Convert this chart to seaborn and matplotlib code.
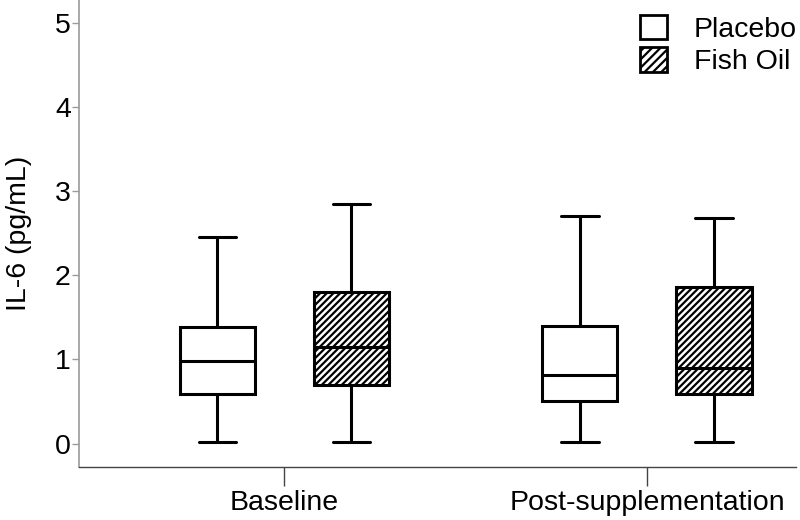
import pandas as pd
import numpy as np
import matplotlib
matplotlib.use("Agg")
import matplotlib.pyplot as plt
from matplotlib.patches import Patch
import seaborn as sns

sns.set_style("ticks")
plt.rcParams['font.family'] = ['Liberation Sans', 'DejaVu Sans']
plt.rcParams['hatch.linewidth'] = 1.6
plt.rcParams['text.color'] = 'black'
plt.rcParams['axes.labelcolor'] = 'black'

# Five-number summaries: min, Q1, median, Q3, max
timepoints = ["Baseline", "Post-supplementation"]
groups = ["Placebo", "Fish Oil"]
baseline_placebo = [0.02, 0.59, 0.985, 1.38, 2.45]
baseline_fishoil = [0.02, 0.70, 1.15, 1.80, 2.85]
post_placebo = [0.02, 0.505, 0.815, 1.40, 2.70]
post_fishoil = [0.02, 0.59, 0.90, 1.86, 2.68]

summaries = {
    ("Baseline", "Placebo"): baseline_placebo,
    ("Baseline", "Fish Oil"): baseline_fishoil,
    ("Post-supplementation", "Placebo"): post_placebo,
    ("Post-supplementation", "Fish Oil"): post_fishoil,
}
rows = []
for (tp, grp), vals in summaries.items():
    for v in vals:
        rows.append({"Time": tp, "Group": grp, "IL6": v})
df = pd.DataFrame(rows)

fig = plt.figure(figsize=(8, 5.2), dpi=100)
ax = fig.add_axes([0.099, 0.101, 0.896, 0.899])

sns.boxplot(data=df, x="Time", y="IL6", hue="Group", order=timepoints, hue_order=groups,
            palette={"Placebo": "white", "Fish Oil": "black"}, linecolor="black",
            linewidth=2.2, whis=(0, 100), width=0.74, gap=0.44, legend=False, ax=ax)

# fish oil boxes: white fill with dense diagonal hatching
for p in ax.patches:
    fc = p.get_facecolor()
    if fc[0] < 0.5:
        p.set_facecolor("white")
        p.set_edgecolor("black")
        p.set_hatch("/////")

ax.set_ylim(-0.283, 5.27)
ax.set_xlim(-0.566, 1.411)
ax.set_yticks([0, 1, 2, 3, 4, 5])
ax.set_xlabel("")
ax.set_ylabel("IL-6 (pg/mL)", fontsize=20.5)
ax.yaxis.set_label_coords(-0.066, 0.5)

sns.despine(ax=ax)
ax.spines['left'].set_color('#9a9a9a')
ax.spines['left'].set_linewidth(1.2)
ax.spines['bottom'].set_color('#444444')
ax.spines['bottom'].set_linewidth(1.0)
ax.tick_params(axis='y', labelsize=20.5, length=5, width=1, color='#9a9a9a', labelcolor='black', pad=1)
ax.tick_params(axis='x', labelsize=20.5, length=13.5, width=1, color='#444444', labelcolor='black', pad=3)

handles = [Patch(facecolor="white", edgecolor="black", linewidth=2, label="Placebo"),
           Patch(facecolor="white", edgecolor="black", linewidth=2, hatch="////", label="Fish Oil")]
fig.legend(handles=handles, loc="upper left", bbox_to_anchor=(0.8, 0.972), frameon=False,
           fontsize=20.5, handlelength=0.95, handleheight=0.95, handletextpad=0.95,
           labelspacing=0.16, borderpad=0, borderaxespad=0)

fig.savefig("out.png", dpi=100)
